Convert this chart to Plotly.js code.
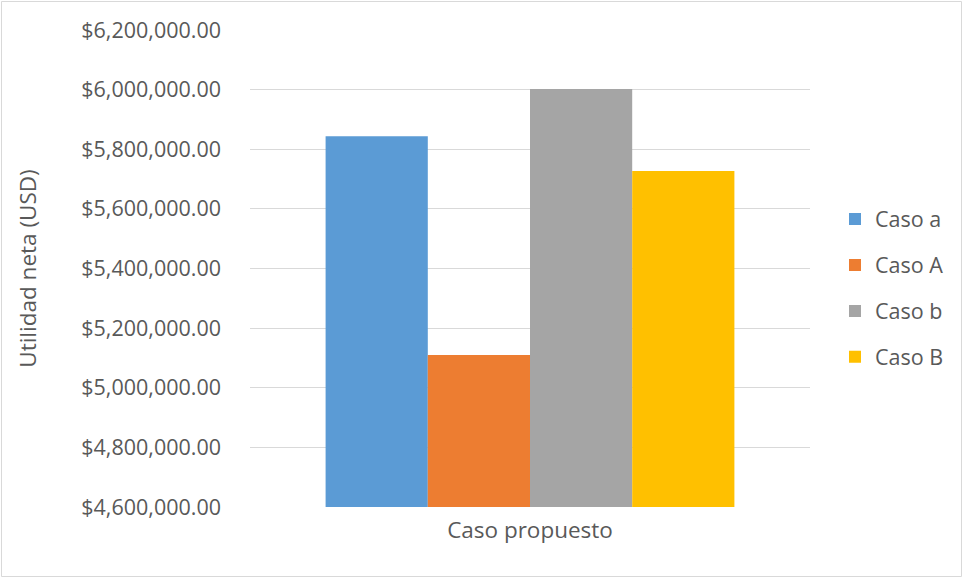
<!DOCTYPE html>
<html>
<head>
<meta charset="utf-8">
<script src="https://cdn.plot.ly/plotly-3.0.1.min.js"></script>
<style>
  html, body { margin: 0; padding: 0; background: #fff; }
  #chart { width: 963px; height: 578px; }
</style>
</head>
<body>
<div id="chart"></div>
<script>
// Utilidad neta por caso, en USD
const categories = ["Caso propuesto"];
const seriesNames = ["Caso a", "Caso A", "Caso b", "Caso B"];
const casoA_min = [5844000];
const casoA_may = [5110000];
const casoB_min = [6002000];
const casoB_may = [5727000];
const seriesValues = [casoA_min, casoA_may, casoB_min, casoB_may];
const seriesColors = ["#5B9BD5", "#ED7D31", "#A5A5A5", "#FFC000"];

const W = 963, H = 578;
const M = { l: 250, r: 153, t: 30, b: 71 };
const plotW = W - M.l - M.r, plotH = H - M.t - M.b;

const FONT = "Open Sans, sans-serif";
const TXT = "#595959";

const traces = seriesNames.map((name, i) => ({
  type: "bar",
  name: name,
  x: categories,
  y: seriesValues[i],
  legendgroup: "g" + i,
  marker: { color: seriesColors[i], line: { width: 0 } },
  hovertemplate: "%{y:$,.2f}<extra>" + name + "</extra>"
}));

// chart frame in paper coordinates
const px = x => (x - M.l) / plotW;
const py = y => (H - M.b - y) / plotH;

const layout = {
  width: W,
  height: H,
  margin: M,
  paper_bgcolor: "#ffffff",
  plot_bgcolor: "#ffffff",
  font: { family: FONT, size: 21, color: TXT },
  barmode: "group",
  bargap: 0.27,
  bargroupgap: 0,
  showlegend: true,
  legend: {
    x: px(835), xanchor: "left",
    y: py(288), yanchor: "middle",
    traceorder: "grouped",
    tracegroupgap: 15,
    font: { family: FONT, size: 21.5, color: TXT },
    itemclick: false, itemdoubleclick: false
  },
  xaxis: {
    type: "category",
    showgrid: false,
    zeroline: false,
    showline: false,
    ticks: "",
    tickfont: { family: FONT, size: 22.5, color: TXT },
    ticklabelstandoff: 7
  },
  yaxis: {
    range: [4600000, 6200000],
    dtick: 200000,
    tick0: 4600000,
    tickformat: "$,.2f",
    showgrid: true,
    gridcolor: "#d9d9d9",
    gridwidth: 1,
    zeroline: false,
    showline: false,
    ticks: "",
    ticklabelstandoff: 28,
    tickfont: { family: FONT, size: 21.5, color: TXT },
    title: {
      text: "Utilidad neta (USD)",
      font: { family: FONT, size: 22.5, color: TXT },
      standoff: 38
    },
    automargin: false
  },
  shapes: [{
    type: "rect", xref: "paper", yref: "paper",
    x0: px(1.5), x1: px(961.5), y0: py(576.5), y1: py(1.5),
    line: { color: "#d9d9d9", width: 1 },
    fillcolor: "rgba(0,0,0,0)",
    layer: "below"
  }]
};

Plotly.newPlot("chart", traces, layout, { displayModeBar: false, staticPlot: false });
</script>
</body>
</html>
